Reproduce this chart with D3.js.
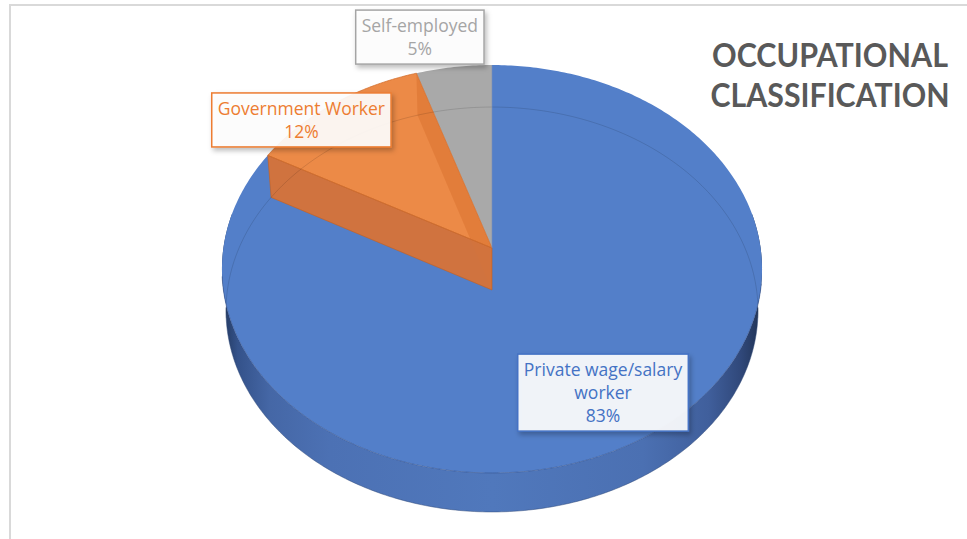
<!DOCTYPE html>
<html>
<head>
<meta charset="utf-8">
<script src="https://cdn.jsdelivr.net/npm/d3@7"></script>
<style>
  html, body { margin: 0; padding: 0; background: #ffffff; }
  svg { display: block; }
</style>
</head>
<body>
<svg id="chart" width="967" height="539"></svg>
<script>
// ---- data ----
const categories = ["Private wage/salary worker", "Government Worker", "Self-employed"];
const shares = [83, 12, 5];
const labelLines = [["Private wage/salary", "worker"], ["Government Worker"], ["Self-employed"]];
const titleLines = ["OCCUPATIONAL", "CLASSIFICATION"];

// ---- styles ----
const topColors = ["#537fc9", "#ec8a47", "#a9a9a9"];
const seriesColors = ["#4472c4", "#ed7d31", "#a5a5a5"];

// ---- 3D pie geometry (perspective projection of a tilted disc) ----
const CX = 492, CY = 248;      // projected pie centre on the top face
const A = 268.6, B = 201.8;    // horizontal / vertical radii
const P = 0.103;               // perspective strength (near side larger)
const DEPTH = 42;              // pie thickness in pixels

function proj(theta, r, z) {
  const u = r * Math.sin(theta), v = -r * Math.cos(theta);
  const w = 1 - P * v;
  const xs = 1 - 0.015 * z;
  const d = z * (DEPTH - 3 * Math.max(0, v));
  return [CX + A * xs * u / w, CY + B * v / w + d];
}

function arcPoints(a0, a1, r, z) {
  const n = Math.max(2, Math.ceil(Math.abs(a1 - a0) / (Math.PI / 240)));
  return d3.range(n + 1).map(i => proj(a0 + (a1 - a0) * i / n, r, z));
}

const line = d3.line().curve(d3.curveLinear);
const rad = deg => deg * Math.PI / 180;

const svg = d3.select("#chart");
const defs = svg.append("defs");

// side gradient: darker toward both silhouettes
const sideGrad = defs.append("linearGradient")
  .attr("id", "sideGrad").attr("gradientUnits", "userSpaceOnUse")
  .attr("x1", CX - A - 2).attr("x2", CX + A + 2).attr("y1", 0).attr("y2", 0);
[[0, "#22375c"], [0.03, "#34528a"], [0.09, "#4567a6"], [0.2, "#4c71b4"],
 [0.5, "#5078bc"], [0.78, "#4b70b2"], [0.9, "#405f9c"], [0.96, "#30487a"], [1, "#1f3152"]]
  .forEach(([o, c]) => sideGrad.append("stop").attr("offset", o).attr("stop-color", c));

const shadow = defs.append("filter").attr("id", "boxShadow")
  .attr("x", "-20%").attr("y", "-30%").attr("width", "150%").attr("height", "170%");
shadow.append("feDropShadow").attr("dx", 2).attr("dy", 3).attr("stdDeviation", 2.5)
  .attr("flood-color", "#000").attr("flood-opacity", 0.28);

const arcs = d3.pie().sort(null).value(d => d).startAngle(0).endAngle(2 * Math.PI)(shares);

// ---- chart frame ----
svg.append("line").attr("x1", 9).attr("x2", 967).attr("y1", 5).attr("y2", 5)
  .attr("stroke", "#d9d9d9").attr("stroke-width", 2);
svg.append("line").attr("x1", 10).attr("x2", 10).attr("y1", 4).attr("y2", 539)
  .attr("stroke", "#d9d9d9").attr("stroke-width", 2);

const pie = svg.append("g");

// outer side wall (front half, belongs to the large slice)
{
  const a0 = rad(80), a1 = rad(280);
  const topPts = arcPoints(a0, a1, 1, 0);
  const botPts = arcPoints(a1, a0, 1, 1);
  pie.append("path").attr("d", line(topPts.concat(botPts)) + "Z")
    .attr("fill", "url(#sideGrad)");
  pie.append("path").attr("d", line(arcPoints(rad(95), rad(265), 1, 1)))
    .attr("fill", "none").attr("stroke", "#2e4775").attr("stroke-width", 0.8).attr("stroke-opacity", 0.6);
}

// top face of a slice
function topFace(a) {
  const pts = [proj(0, 0, 0)].concat(arcPoints(a.startAngle, a.endAngle, 1, 0));
  return line(pts) + "Z";
}

// radial cut face at angle t
function radialFace(t) {
  return line([proj(t, 1, 0), proj(t, 0, 0), proj(t, 0, 1), proj(t, 1, 1)]) + "Z";
}

// large slice, then small grey slice
pie.append("path").attr("d", topFace(arcs[0])).attr("fill", topColors[0]);
pie.append("path").attr("d", topFace(arcs[2])).attr("fill", topColors[2]);

// government slice: top face, far cut seen through it, near cut face
pie.append("path").attr("d", topFace(arcs[1])).attr("fill", topColors[1]);
pie.append("path").attr("d", radialFace(arcs[1].endAngle))
  .attr("fill", "#cf6520").attr("fill-opacity", 0.33);
pie.append("path").attr("d", radialFace(arcs[1].startAngle))
  .attr("fill", "#d5733a").attr("fill-opacity", 0.97)
  .attr("stroke", "#c4601f").attr("stroke-width", 0.6);
pie.append("path").attr("d", topFace(arcs[1]))
  .attr("fill", "none").attr("stroke", "#d06a28").attr("stroke-width", 0.7);

// back rim of the bottom face, faintly visible through the top
pie.append("path").attr("d", line(arcPoints(rad(262), rad(458), 1, 1)))
  .attr("fill", "none").attr("stroke", "#000").attr("stroke-opacity", 0.12).attr("stroke-width", 1);

// front rim between top face and side wall
pie.append("path").attr("d", line(arcPoints(rad(100), rad(262), 1, 0)))
  .attr("fill", "none").attr("stroke", "#34518a").attr("stroke-width", 0.8).attr("stroke-opacity", 0.7);

// edge between large and grey slices
pie.append("path").attr("d", line([proj(0, 1, 0), proj(0, 0, 0)]))
  .attr("stroke", "#7a8fb5").attr("stroke-width", 0.6);

// ---- data labels ----
const FONT = "'Open Sans', 'Liberation Sans', sans-serif";
const labelOffsets = [[-39, -46], [-32, 16], [-34, -30]];   // box centre relative to outer rim point
const LINE_H = 23, PAD_X = 6, PAD_Y = 4;

arcs.forEach((a, i) => {
  const mid = (a.startAngle + a.endAngle) / 2;
  const rim = proj(mid, 1, 0);
  const cxL = rim[0] + labelOffsets[i][0], cyL = rim[1] + labelOffsets[i][1];
  const lines = labelLines[i].concat([shares[i] + "%"]);
  const g = svg.append("g");
  const box = g.append("rect");
  const txt = g.append("text").attr("font-family", FONT).attr("font-size", 17.5)
    .attr("fill", seriesColors[i]).attr("text-anchor", "middle");
  const h = lines.length * LINE_H + PAD_Y * 2;
  const top = cyL - h / 2;
  lines.forEach((s, k) => {
    txt.append("tspan").attr("x", cxL).attr("y", top + PAD_Y + 18 + k * LINE_H).text(s);
  });
  const w = txt.node().getBBox().width + PAD_X * 2;
  box.attr("x", cxL - w / 2).attr("y", top).attr("width", w).attr("height", h)
    .attr("fill", "#ffffff").attr("fill-opacity", 0.9)
    .attr("stroke", seriesColors[i]).attr("stroke-width", 1.5)
    .attr("filter", "url(#boxShadow)");
});

// ---- title ----
const title = svg.append("text").attr("font-family", "Lato, 'Open Sans', sans-serif")
  .attr("font-weight", 700).attr("font-size", 32).attr("fill", "#595959")
  .attr("text-anchor", "middle");
const titleWidths = [236, 239];
titleLines.forEach((s, k) => {
  title.append("tspan").attr("x", 830).attr("y", 67 + k * 40)
    .attr("textLength", titleWidths[k]).attr("lengthAdjust", "spacingAndGlyphs").text(s);
});
</script>
</body>
</html>
